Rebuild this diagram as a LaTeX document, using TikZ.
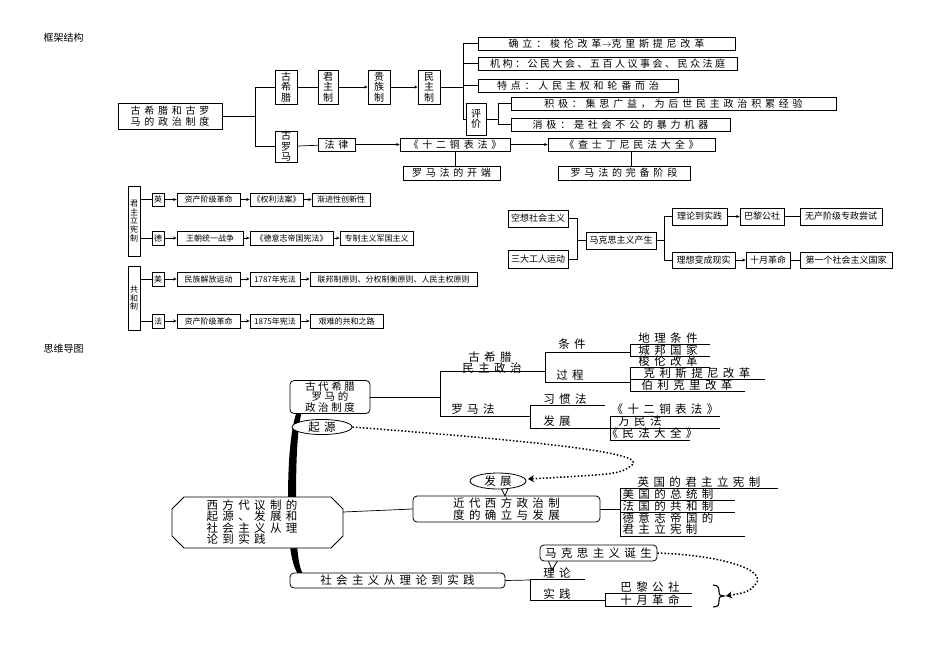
\documentclass[tikz,border=0pt]{standalone}
\usepackage{fontspec}
\setmainfont{Noto Sans CJK SC}
\newfontfamily\spc[LetterSpace=38]{Noto Sans CJK SC}
\newfontfamily\spb[LetterSpace=25]{Noto Sans CJK SC}
\usetikzlibrary{arrows.meta,shapes.geometric}
\newcommand\bx[6]{\node[bx, minimum width={#4-#2}, minimum height={#5-#3}] (#1) at ({(#2+#4)/2},{(#3+#5)/2}) {#6};}
\newcommand\ut[3]{\node[ut] (#1) at (#2) {#3};}
\begin{document}
\begin{tikzpicture}[x=1pt,y=-1pt,
  bx/.style={draw, inner sep=0pt, align=center, line width=0.7pt},
  top/.style={font=\spc\fontsize{10}{10.5}\selectfont},
  sm/.style={font=\fontsize{8}{8.8}\selectfont},
  md/.style={font=\fontsize{9}{9.5}\selectfont},
  ut/.style={inner sep=0pt, font=\spc\fontsize{11.5}{11.5}\selectfont},
  ln/.style={line width=0.7pt},
  ar/.style={line width=0.7pt, -{Stealth[length=3.5pt,width=3pt]}},
  dt/.style={line width=1.5pt, dotted, -{Stealth[length=6pt,width=7pt]}},
  rb/.style={draw, rounded corners=4pt, line width=0.8pt, inner sep=0pt, align=center, fill=white, font=\spc\fontsize{11.5}{10.5}\selectfont}]
\useasboundingbox (0,0) rectangle (950,659);
\node[anchor=west, font=\fontsize{10}{10}\selectfont] (t1) at (40,38) {框架结构};
\node[anchor=west, font=\fontsize{10}{10}\selectfont] (t2) at (40,349) {思维导图};
% ---------- top ----------
\begin{scope}[every node/.append style={top}]
\bx{root}{118}{103}{222}{129}{古希腊和古罗\\马的政治制度}
\bx{gxl}{275}{70}{297}{104}{古\\希\\腊}
\bx{glm}{275}{131}{297}{162}{古\\罗\\马}
\bx{jz}{318}{70}{338}{104}{君\\主\\制}
\bx{gz}{368}{70}{390}{104}{贵\\族\\制}
\bx{mz}{418}{70}{440}{104}{民\\主\\制}
\bx{ql}{478}{37}{735}{50}{确立：梭伦改革$\rightarrow$克里斯提尼改革}
\bx{jg}{478}{57}{737}{70}{\spb 机构：公民大会、五百人议事会、民众法庭}
\bx{td}{478}{79}{678}{92}{特点：人民主权和轮番而治}
\bx{pj}{466}{103}{486}{135}{评\\价}
\bx{jj}{511}{97}{836}{110}{积极：集思广益，为后世民主政治积累经验}
\bx{xj}{511}{118}{730}{131}{消极：是社会不公的暴力机器}
\bx{fl}{318}{138}{355}{151}{法律}
\bx{sr}{400}{138}{510}{151}{《十二铜表法》}
\bx{cs}{548}{138}{715}{151}{《查士丁尼民法大全》}
\bx{kd}{403}{166}{500}{180}{罗马法的开端}
\bx{wb}{558}{166}{690}{180}{罗马法的完备阶段}
\end{scope}
\draw[ln] (root.east) -- (255,116);
\draw[ln] (255,87) |- (gxl.west);
\draw[ln] (255,87) |- (glm.west);
\draw[ln] (gxl) -- (jz);
\draw[ar] (jz) -- (gz);
\draw[ar] (gz) -- (mz);
\draw[ln] (mz.east) -- (463,87);
\draw[ln] (463,43.5) -- (463,119);
\draw[ln] (463,43.5) -- (ql.west);
\draw[ln] (463,63.5) -- (jg.west);
\draw[ln] (463,85.5) -- (td.west);
\draw[ln] (463,119) -- (pj.west);
\draw[ln] (pj.east) -- (498,119);
\draw[ln] (498,103.5) -- (498,124.5);
\draw[ln] (498,103.5) -- (jj.west);
\draw[ln] (498,124.5) -- (xj.west);
\draw[ln] (glm) -- (fl);
\draw[ar] (fl) -- (sr);
\draw[ar] (sr) -- (cs);
\draw[ln] (sr.south) -- (kd.north-|sr.south);
\draw[ln] (cs.south) -- (wb.north-|cs.south);
% ---------- middle left ----------
\begin{scope}[every node/.append style={sm}]
\bx{jzlx}{128}{186}{140}{256}{君\\主\\立\\宪\\制}
\bx{ying}{152}{193}{164}{206}{英}
\bx{ya}{177}{193}{240}{206}{资产阶级革命}
\bx{yb}{250}{193}{303}{206}{《权利法案》}
\bx{yc}{312}{193}{370}{206}{渐进性创新性}
\bx{de}{152}{231}{164}{245}{德}
\bx{da}{177}{231}{243}{245}{王朝统一战争}
\bx{db}{250}{231}{333}{245}{《德意志帝国宪法》}
\bx{dc}{340}{231}{413}{245}{专制主义军国主义}
\bx{ghz}{128}{266}{140}{330}{共\\和\\制}
\bx{mei}{152}{272}{164}{286}{美}
\bx{ma}{177}{272}{240}{286}{民族解放运动}
\bx{mb}{250}{272}{300}{286}{1787年宪法}
\bx{mc}{310}{272}{477}{286}{联邦制原则、分权制衡原则、人民主权原则}
\bx{fa}{152}{314}{164}{328}{法}
\bx{fb}{177}{314}{240}{328}{资产阶级革命}
\bx{fc}{250}{314}{300}{328}{1875年宪法}
\bx{fd}{310}{314}{383}{328}{艰难的共和之路}
\end{scope}
\draw[ln] (jzlx.east|-ying) -- (ying);
\draw[ln] (jzlx.east|-de) -- (de);
\draw[ln] (ghz.east|-mei) -- (mei);
\draw[ln] (ghz.east|-fa) -- (fa);
\foreach \a/\b in {ying/ya,ya/yb,yb/yc,de/da,da/db,db/dc,mei/ma,ma/mb,mb/mc,fa/fb,fb/fc,fc/fd} \draw[ar] (\a) -- (\b);
% ---------- middle right ----------
\begin{scope}[every node/.append style={md}]
\bx{kx}{508}{210}{568}{227}{空想社会主义}
\bx{sd}{508}{250}{568}{268}{三大工人运动}
\bx{mk}{586}{232}{656}{249}{马克思主义产生}
\bx{ll}{672}{208}{727}{225}{理论到实践}
\bx{bl}{740}{208}{784}{225}{巴黎公社}
\bx{wc}{800}{208}{882}{225}{无产阶级专政尝试}
\bx{lx}{672}{252}{735}{268}{理想变成现实}
\bx{sy}{746}{252}{790}{268}{十月革命}
\bx{dy}{800}{252}{892}{268}{第一个社会主义国家}
\end{scope}
\draw[ln] (kx.east) -- (577,218.5) -- (577,259) -- (sd.east);
\draw[ln] (577,240.5) -- (mk.west);
\draw[ln] (mk.east) -- (664,240.5);
\draw[ln] (664,216.5) -- (664,260);
\draw[ln] (664,216.5) -- (ll.west);
\draw[ln] (664,260) -- (lx.west);
\draw[ar] (ll) -- (bl); \draw[ln] (bl) -- (wc);
\draw[ar] (lx) -- (sy); \draw[ln] (sy) -- (dy);
% ---------- mind map ----------
\fill (306,397) .. controls (294,405) and (288,440) .. (288,500) .. controls (288,560) and (294,578) .. (310,584) -- (310,582) .. controls (299,575) and (296,560) .. (296,500) .. controls (296,440) and (299,410) .. (307,399) -- cycle;
\draw[line width=0.9pt, fill=white] (184,497) -- (331,497) -- (343,509) -- (343,536) -- (331,548) -- (184,548) -- (172,536) -- (172,509) -- cycle;
\node[align=left, inner sep=0pt, font=\spc\fontsize{11.5}{11.5}\selectfont] (oct) at (252,522) {西方代议制的\\起源、发展和\\社会主义从理\\论到实践};
\node[rb, minimum width=80, minimum height=33, font=\spb\fontsize{10.5}{9.5}\selectfont] (gd) at (330,397) {古代希腊\\罗马的\\政治制度};
\node[rb, minimum width=187, minimum height=26] (jd) at (506.5,509) {近代西方政治制\\度的确立与发展};
\node[rb, minimum width=215, minimum height=15] (sh) at (397.5,580.5) {社会主义从理论到实践};
\draw[line width=0.8pt, fill=white] (548,560) -- (552,570) -- (558,560);
\node[rb, minimum width=117, minimum height=16] (mkx) at (598.5,553) {马克思主义诞生};
\node[draw, ellipse, line width=0.8pt, fill=white, minimum width=60, minimum height=15, inner sep=0pt, font=\spc\fontsize{11.5}{10}\selectfont] (qy) at (322,427) {起源};
\draw[line width=0.8pt, fill=white] (500,486) -- (505,496) -- (509,486);
\node[draw, ellipse, line width=0.8pt, fill=white, minimum width=56, minimum height=16, inner sep=0pt, font=\spc\fontsize{11.5}{10}\selectfont] (fz) at (498,481) {发展};
% trunk lines
\draw[ln] (gd.east) -- (440,397);
\draw[ln] (440,371) -- (440,416);
\draw[ln] (440,371) -- (545,371);
\draw[ln] (440,416) -- (520,416);
\ut{gx1}{490,357}{古希腊}
\ut{gx2}{492,368}{民主政治}
\ut{lmf}{473,409}{罗马法}
\draw[ln] (545,352) -- (545,382);
\draw[ln] (545,352) -- (630,352);
\draw[ln] (545,382) -- (630,382);
\ut{tj}{572,344}{条件}
\ut{gc}{570,375}{过程}
\draw[ln] (630,344) -- (630,356);
\draw[ln] (630,344) -- (710,344);
\draw[ln] (630,356) -- (710,356);
\ut{dl}{668,338}{地理条件}
\ut{cb}{668,350}{城邦国家}
\draw[ln] (630,367) -- (630,391);
\draw[ln] (630,367) -- (710,367);
\draw[ln] (630,379) -- (765,379);
\draw[ln] (630,391) -- (745,391);
\ut{sl}{668,361}{梭伦改革}
\ut{kl}{697,373}{克利斯提尼改革}
\ut{bk}{687,385}{伯利克里改革}
\draw[ln] (520,416) -- (530,416);
\draw[ln] (530,405) -- (530,428);
\draw[ln] (530,405) -- (605,405);
\draw[ln] (530,428) -- (610,428);
\ut{xgf}{565,399}{习惯法}
\ut{fz2}{557,421}{发展}
\draw[ln] (610,416) -- (610,440);
\draw[ln] (610,416) -- (720,416);
\draw[ln] (610,428) -- (720,428);
\draw[ln] (610,440) -- (690,440);
\ut{se}{665,409}{《十二铜表法》}
\ut{wm}{640,421}{万民法}
\ut{mf}{652,433}{《民法大全》}
% modern
\draw[ln] (343,512) -- (jd.west);
\draw[ln] (jd.east) -- (620,509);
\draw[ln] (620,488) -- (620,536);
\draw[ln] (620,488) -- (778,488);
\draw[ln] (620,500) -- (735,500);
\draw[ln] (620,512) -- (735,512);
\draw[ln] (620,536) -- (745,536);
\ut{yg}{699,482}{英国的君主立宪制}
\ut{mg}{668,494}{美国的总统制}
\ut{fg}{668,506}{法国的共和制}
\ut{dg1}{668,518}{德意志帝国的}
\ut{dg2}{660,529}{君主立宪制}
% socialism
\draw[ln] (sh.east) -- (530,580);
\draw[ln] (530,579) -- (530,600);
\draw[ln] (530,579) -- (585,579);
\draw[ln] (530,600) -- (605,600);
\ut{lls}{557,573}{理论}
\ut{sj}{557,594}{实践}
\draw[ln] (605,593) -- (605,606);
\draw[ln] (605,593) -- (692,593);
\draw[ln] (605,606) -- (692,606);
\ut{blg}{650,587}{巴黎公社}
\ut{syg}{650,600}{十月革命}
\draw[line width=1.1pt] (713,585) .. controls (719,585) and (719,589) .. (719,592) .. controls (719,595) .. (724,596) .. controls (719,597) .. (719,600) .. controls (719,604) and (719,607) .. (713,607);
\coordinate (bt) at (726,596);
\draw[dt] (mkx.east) .. controls (720,555) and (770,570) .. (755,585) .. controls (748,592) .. (bt);
\coordinate (ft) at (528,479);
\draw[dt] (qy.east) .. controls (520,440) and (650,452) .. (632,465) .. controls (620,474) .. (ft);
\end{tikzpicture}
\end{document}
